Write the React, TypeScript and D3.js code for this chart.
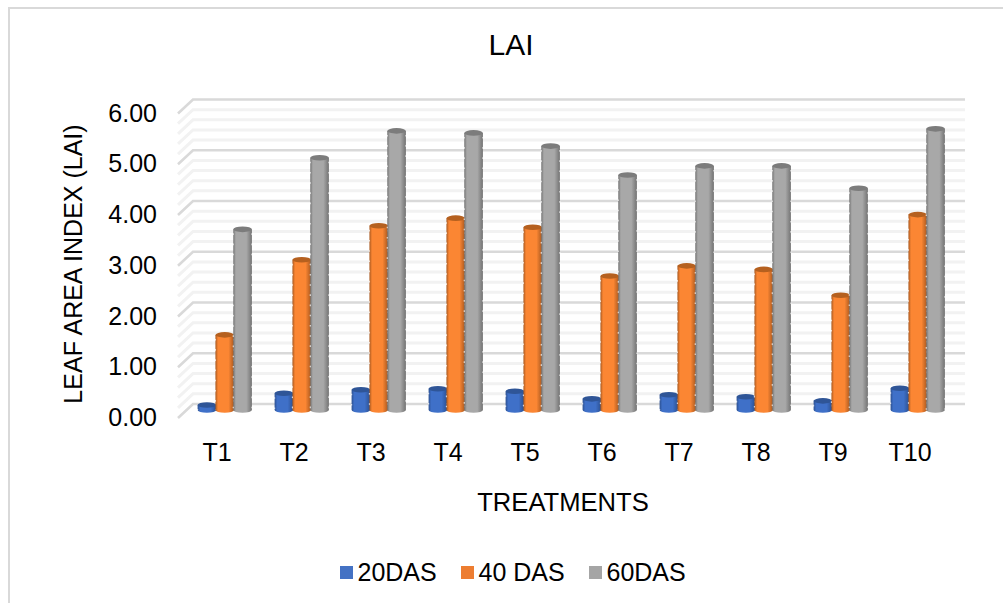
import React, { useEffect, useRef } from "react";
import * as d3 from "d3";

const categories = ["T1", "T2", "T3", "T4", "T5", "T6", "T7", "T8", "T9", "T10"];
const das20 = [0.1, 0.33, 0.4, 0.42, 0.37, 0.22, 0.3, 0.26, 0.18, 0.43];
const das40 = [1.48, 2.96, 3.63, 3.78, 3.6, 2.64, 2.84, 2.77, 2.26, 3.85];
const das60 = [3.56, 4.97, 5.5, 5.46, 5.2, 4.63, 4.81, 4.81, 4.37, 5.54];
const seriesNames = ["20DAS", "40 DAS", "60DAS"];
const seriesColors = ["#4472c4", "#ed7d31", "#a5a5a5"];
const edgeColors = ["#2b4f8f", "#a8581f", "#737373"];
const midColors = ["#3f70c8", "#fb8633", "#a8a8a8"];
const topColors = ["#2f5597", "#b5601f", "#7c7c7c"];
const yTicks = [0, 1, 2, 3, 4, 5, 6];
const minorTicks = d3.range(0, 31).map((d) => d / 5);

const W = 1003;
const H = 603;
const FONT = '"Liberation Sans", Arial, sans-serif';
const DX = 15; // depth of the 3d box
const DY = 14;

const App: React.FC = () => {
  const svgRef = useRef<SVGSVGElement | null>(null);

  useEffect(() => {
    const svg = d3.select(svgRef.current);
    svg.selectAll("*").remove();

    svg.append("rect").attr("x", 9).attr("y", 8).attr("width", W - 9 + 4).attr("height", H - 8 + 4)
      .attr("fill", "#fff").attr("stroke", "#d9d9d9").attr("stroke-width", 2);

    const x = d3.scaleBand<string>().domain(categories).range([178.5, 948.5]);
    // y of the front edge of the floor
    const y = d3.scaleLinear().domain([0, 6]).range([418, 113.5]);

    // gridlines, minor first
    const grid = svg.append("g");
    minorTicks.forEach((t) => {
      const major = Number.isInteger(t);
      const color = major ? "#d9d9d9" : "#f2f2f2";
      grid.append("path")
        .attr("d", `M${178},${y(t)}L${178 + DX},${y(t) - DY}L965,${y(t) - DY}`)
        .attr("fill", "none")
        .attr("stroke", color)
        .attr("stroke-width", major ? 2.6 : 3);
    });

    const defs = svg.append("defs");
    seriesNames.forEach((_, i) => {
      const g = defs.append("linearGradient").attr("id", `bar${i}`);
      g.append("stop").attr("offset", "0%").attr("stop-color", edgeColors[i]);
      g.append("stop").attr("offset", "14%").attr("stop-color", midColors[i]);
      g.append("stop").attr("offset", "70%").attr("stop-color", midColors[i]);
      g.append("stop").attr("offset", "100%").attr("stop-color", edgeColors[i]);
    });

    const inner = d3.scaleBand<number>().domain([0, 1, 2]).range([19.5, 73]);
    const barY = (v: number) => y(v) - 8;
    const ry = 2.8;

    [das20, das40, das60].forEach((vals, i) => {
      const g = svg.append("g");
      vals.forEach((v, k) => {
        const bx = x(categories[k])! + inner(i)!;
        const bw = inner.bandwidth();
        const top = barY(v);
        const base = barY(0);
        g.append("path")
          .attr("d", `M${bx - 0.4},${top}L${bx - 0.4},${base}A${bw / 2 + 0.4},${ry} 0 0 0 ${bx + bw + 0.4},${base}L${bx + bw + 0.4},${top}Z`)
          .attr("fill", `url(#bar${i})`);
        // notched edges of the picture's cylinders
        [bx - 0.4, bx + bw + 0.4].forEach((ex) => {
          g.append("line")
            .attr("x1", ex).attr("x2", ex).attr("y1", top + 4).attr("y2", base)
            .attr("stroke", "#fff").attr("stroke-opacity", 0.7).attr("stroke-width", 1.2)
            .attr("stroke-dasharray", "1.6 8.6");
        });
        g.append("ellipse")
          .attr("cx", bx + bw / 2).attr("cy", top)
          .attr("rx", bw / 2 + 0.4).attr("ry", ry)
          .attr("fill", topColors[i]);
      });
    });

    const text = (tx: number, ty: number, s: string, anchor = "middle") =>
      svg.append("text").attr("x", tx).attr("y", ty).attr("text-anchor", anchor)
        .attr("font-family", FONT).attr("font-size", 25).attr("fill", "#000").text(s);

    text(511, 55, "LAI").attr("font-size", 30);
    yTicks.forEach((t) => text(157, y(t) + 8, t.toFixed(2), "end"));
    categories.forEach((c) => text(x(c)! + x.bandwidth() / 2, 461, c));
    text(563, 511, "TREATMENTS").attr("font-size", 25.6);
    text(0, 0, "LEAF AREA INDEX (LAI)")
      .attr("transform", "translate(82,264) rotate(-90)");

    const legendX = [340, 461, 589];
    seriesNames.forEach((s, i) => {
      svg.append("rect").attr("x", legendX[i]).attr("y", 566).attr("width", 13).attr("height", 13)
        .attr("fill", seriesColors[i]);
      text(legendX[i] + 17.5, 581, s, "start");
    });
  }, []);

  return (
    <svg
      ref={svgRef}
      width={W}
      height={H}
      viewBox={`0 0 ${W} ${H}`}
      style={{ position: "fixed", left: 0, top: 0, display: "block", background: "#fff" }}
    />
  );
};

export default App;
